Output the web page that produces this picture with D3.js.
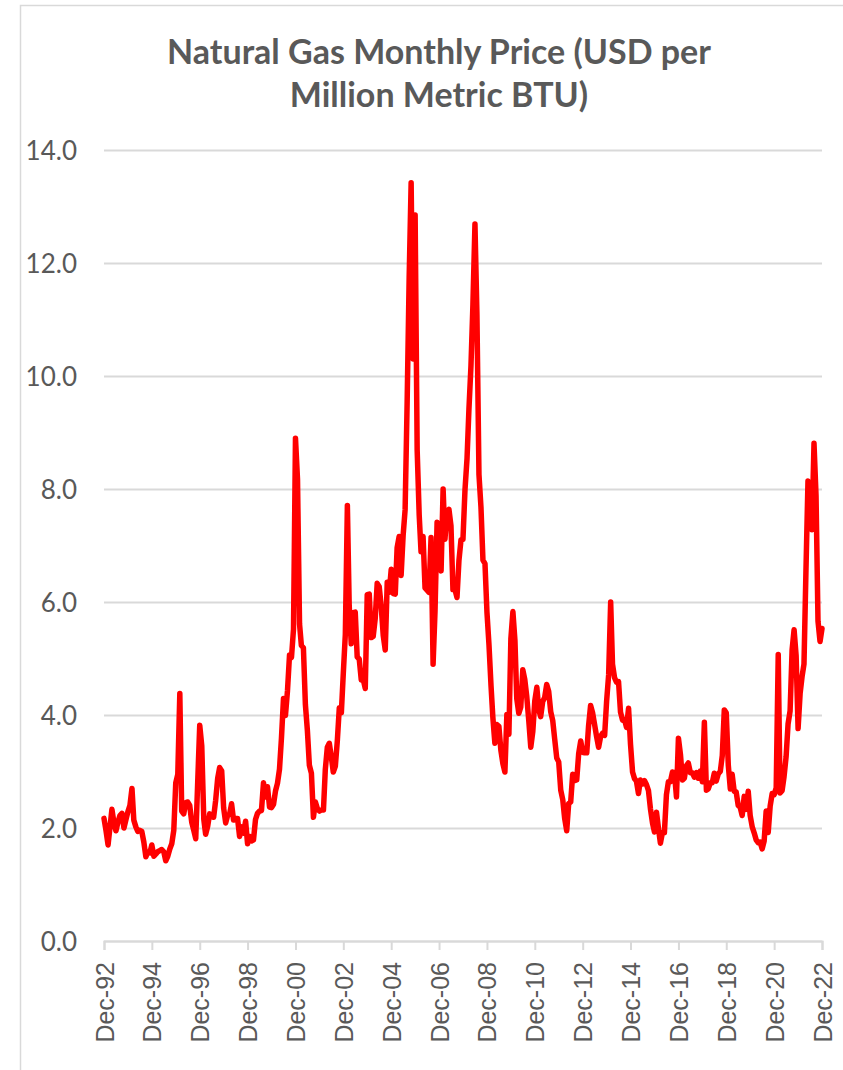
<!DOCTYPE html>
<html>
<head>
<meta charset="utf-8">
<script src="https://cdn.jsdelivr.net/npm/d3@7"></script>
<style>
  html, body { margin: 0; padding: 0; background: #ffffff; }
  svg { display: block; }
</style>
</head>
<body>
<svg id="chart" width="843" height="1070"></svg>
<script>
// ---- Data (USD per MMBtu), monthly from Dec-1992 to Dec-2022 ----
const startMonth = "1992-12";
const prices1992 = [2.17];
const prices1993 = [1.95, 1.70, 2.00, 2.33, 2.10, 1.95, 2.10, 2.22, 2.26, 2.00, 2.15, 2.29];
const prices1994 = [2.40, 2.70, 2.14, 2.02, 1.94, 1.96, 1.94, 1.75, 1.49, 1.58, 1.56, 1.70];
const prices1995 = [1.50, 1.54, 1.58, 1.60, 1.62, 1.58, 1.42, 1.50, 1.63, 1.72, 1.96, 2.80];
const prices1996 = [2.95, 4.38, 2.30, 2.25, 2.45, 2.46, 2.40, 2.10, 1.96, 1.81, 2.85, 3.82];
const prices1997 = [3.45, 2.15, 1.89, 2.03, 2.25, 2.20, 2.19, 2.49, 2.88, 3.07, 3.01, 2.35];
const prices1998 = [2.09, 2.23, 2.24, 2.43, 2.14, 2.17, 2.17, 1.85, 2.02, 1.91, 2.12, 1.72];
const prices1999 = [1.85, 1.77, 1.79, 2.15, 2.26, 2.30, 2.31, 2.80, 2.55, 2.73, 2.37, 2.36];
const prices2000 = [2.42, 2.66, 2.79, 3.04, 3.59, 4.29, 3.99, 4.43, 5.06, 5.02, 5.52, 8.90];
const prices2001 = [8.17, 5.61, 5.23, 5.19, 4.19, 3.72, 3.11, 2.97, 2.19, 2.46, 2.34, 2.30];
const prices2002 = [2.32, 2.32, 3.03, 3.43, 3.50, 3.26, 2.99, 3.09, 3.55, 4.13, 4.04, 4.74];
const prices2003 = [5.43, 7.71, 5.93, 5.26, 5.81, 5.82, 5.03, 4.99, 4.62, 4.63, 4.47, 6.13];
const prices2004 = [6.14, 5.37, 5.39, 5.71, 6.33, 6.27, 5.93, 5.41, 5.15, 6.35, 6.17, 6.58];
const prices2005 = [6.15, 6.14, 6.96, 7.16, 6.47, 7.18, 7.63, 9.53, 11.75, 13.42, 10.30, 12.85];
const prices2006 = [8.69, 7.54, 6.89, 7.16, 6.25, 6.21, 6.17, 7.14, 4.90, 5.85, 7.41, 6.73];
const prices2007 = [6.55, 8.00, 7.11, 7.60, 7.64, 7.35, 6.22, 6.22, 6.08, 6.74, 7.10, 7.11];
const prices2008 = [7.99, 8.54, 9.41, 10.18, 11.27, 12.69, 11.09, 8.26, 7.67, 6.74, 6.68, 5.82];
const prices2009 = [5.24, 4.52, 3.96, 3.50, 3.83, 3.80, 3.38, 3.14, 2.99, 4.01, 3.66, 5.35];
const prices2010 = [5.83, 5.32, 4.29, 4.03, 4.14, 4.80, 4.63, 4.32, 3.89, 3.43, 3.71, 4.25];
const prices2011 = [4.49, 4.09, 3.97, 4.24, 4.31, 4.54, 4.42, 4.06, 3.90, 3.57, 3.24, 3.17];
const prices2012 = [2.67, 2.50, 2.17, 1.95, 2.43, 2.46, 2.95, 2.84, 2.85, 3.32, 3.54, 3.34];
const prices2013 = [3.33, 3.33, 3.81, 4.17, 4.04, 3.83, 3.62, 3.43, 3.62, 3.68, 3.64, 4.24];
const prices2014 = [4.71, 6.00, 4.90, 4.66, 4.58, 4.59, 4.05, 3.91, 3.92, 3.78, 4.12, 3.48];
const prices2015 = [2.99, 2.87, 2.83, 2.61, 2.85, 2.78, 2.84, 2.77, 2.66, 2.34, 2.09, 1.93];
const prices2016 = [2.28, 1.99, 1.73, 1.92, 1.92, 2.59, 2.82, 2.82, 2.99, 2.98, 2.55, 3.59];
const prices2017 = [3.30, 2.85, 2.88, 3.10, 3.15, 2.98, 2.98, 2.90, 2.98, 2.88, 3.01, 2.82];
const prices2018 = [3.87, 2.67, 2.69, 2.80, 2.80, 2.97, 2.83, 2.96, 3.00, 3.28, 4.09, 4.04];
const prices2019 = [3.11, 2.69, 2.95, 2.65, 2.64, 2.40, 2.37, 2.22, 2.56, 2.33, 2.65, 2.22];
const prices2020 = [2.02, 1.91, 1.79, 1.74, 1.75, 1.63, 1.77, 2.30, 1.92, 2.39, 2.61, 2.59];
const prices2021 = [2.71, 5.07, 2.62, 2.66, 2.91, 3.26, 3.84, 4.07, 5.16, 5.51, 5.05, 3.76];
const prices2022 = [4.38, 4.69, 4.90, 6.60, 8.14, 7.70, 7.28, 8.81, 7.88, 5.66, 5.30, 5.53];

const yTicks = [0, 2, 4, 6, 8, 10, 12, 14];
const xTickLabels = ["Dec-92","Dec-94","Dec-96","Dec-98","Dec-00","Dec-02","Dec-04","Dec-06",
                     "Dec-08","Dec-10","Dec-12","Dec-14","Dec-16","Dec-18","Dec-20","Dec-22"];
const titleLines = ["Natural Gas Monthly Price (USD per", "Million Metric BTU)"];

// ---- Build series ----
const allPrices = [].concat(prices1992, prices1993, prices1994, prices1995, prices1996,
  prices1997, prices1998, prices1999, prices2000, prices2001, prices2002, prices2003,
  prices2004, prices2005, prices2006, prices2007, prices2008, prices2009, prices2010,
  prices2011, prices2012, prices2013, prices2014, prices2015, prices2016, prices2017,
  prices2018, prices2019, prices2020, prices2021, prices2022);
const parseMonth = d3.utcParse("%Y-%m");
const t0 = parseMonth(startMonth);
const series = allPrices.map((v, i) => ({ date: d3.utcMonth.offset(t0, i), value: v }));
const tickDates = xTickLabels.map((_, i) => d3.utcMonth.offset(t0, i * 24));

// ---- Layout ----
const svg = d3.select("#chart");
const plot = { left: 104, right: 822, top: 150, bottom: 941 };
const grey = "#595959";
const gridColor = "#d9d9d9";

// chart area border
svg.append("rect")
  .attr("x", 20.5).attr("y", 5.5)
  .attr("width", 900).attr("height", 1100)
  .attr("fill", "none").attr("stroke", gridColor).attr("stroke-width", 1.5);

const x = d3.scaleUtc()
  .domain([series[0].date, series[series.length - 1].date])
  .range([plot.left, plot.right]);
const y = d3.scaleLinear().domain([0, 14]).range([plot.bottom, plot.top]);

// Title
const title = svg.append("text")
  .attr("text-anchor", "middle")
  .attr("font-family", "Lato, 'Open Sans', sans-serif")
  .attr("font-weight", "bold")
  .attr("font-size", 34)
  .attr("fill", grey);
title.selectAll("tspan").data(titleLines).join("tspan")
  .attr("x", 439)
  .attr("y", (d, i) => 64 + i * 43)
  .text(d => d);

// gridlines (y axis)
const yAxis = d3.axisLeft(y)
  .tickValues(yTicks)
  .tickSize(-(plot.right - plot.left))
  .tickPadding(27)
  .tickFormat(d3.format(".1f"));
const gy = svg.append("g")
  .attr("transform", `translate(${plot.left},0)`)
  .call(yAxis);
gy.select(".domain").remove();
gy.selectAll(".tick line").attr("stroke", gridColor).attr("stroke-width", 2);
gy.selectAll(".tick text")
  .attr("fill", grey)
  .attr("font-family", "Lato, 'Open Sans', sans-serif")
  .attr("font-size", 26)
  .attr("dy", "0.36em");

// x axis
const xAxis = d3.axisBottom(x)
  .tickValues(tickDates)
  .tickSize(9)
  .tickPadding(12)
  .tickFormat((d, i) => xTickLabels[i]);
const gx = svg.append("g")
  .attr("transform", `translate(0,${plot.bottom})`)
  .call(xAxis);
gx.select(".domain").attr("stroke", gridColor).attr("stroke-width", 2);
gx.selectAll(".tick line").attr("stroke", gridColor).attr("stroke-width", 2);
gx.selectAll(".tick text")
  .attr("fill", grey)
  .attr("font-family", "'Liberation Sans', Arial, sans-serif")
  .attr("font-size", 25)
  .attr("text-anchor", "end")
  .attr("transform", "rotate(-90)")
  .attr("x", -21)
  .attr("y", 0)
  .attr("dy", "0.36em");

// line
const line = d3.line()
  .x(d => x(d.date))
  .y(d => y(d.value));
svg.append("path")
  .datum(series)
  .attr("fill", "none")
  .attr("stroke", "#ff0000")
  .attr("stroke-width", 5.5)
  .attr("stroke-linejoin", "round")
  .attr("stroke-linecap", "round")
  .attr("d", line);
</script>
</body>
</html>
